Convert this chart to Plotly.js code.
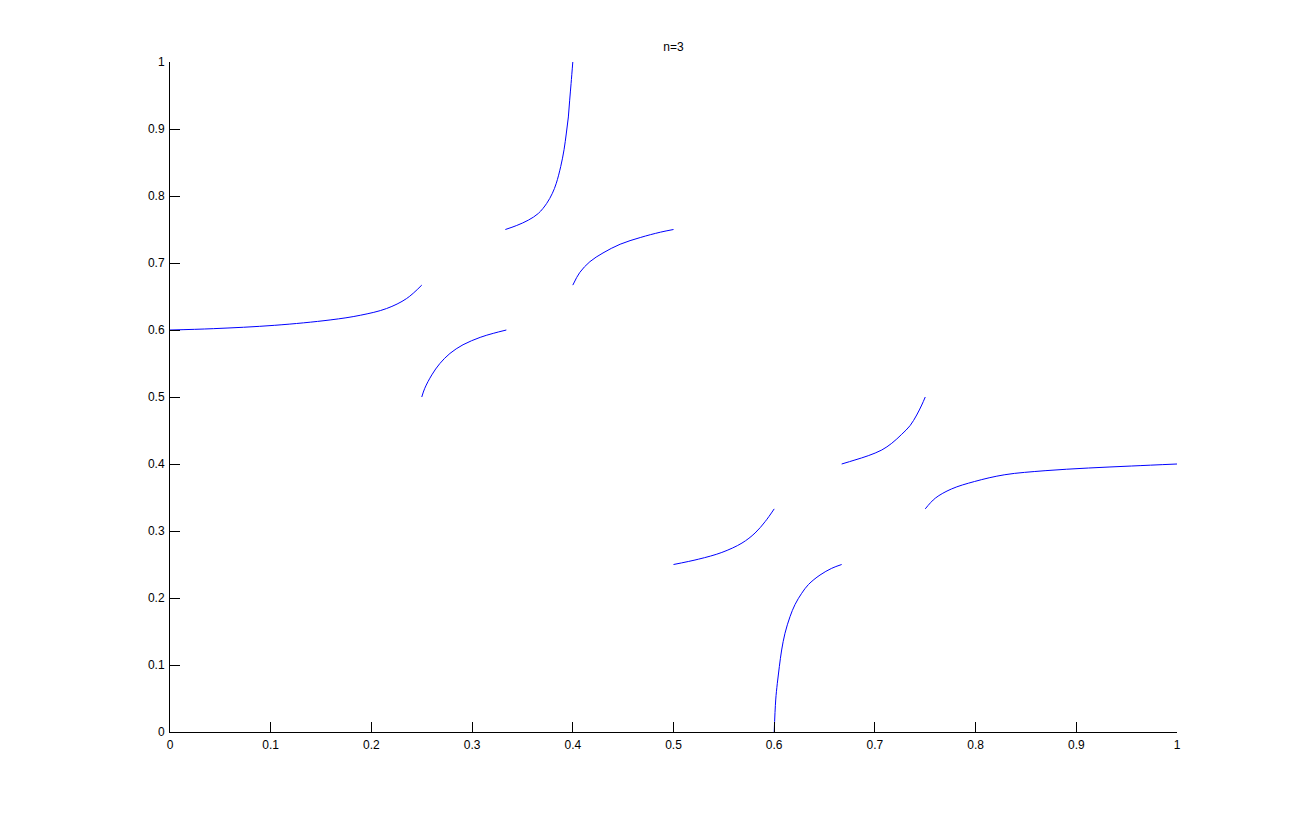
<!DOCTYPE html>
<html>
<head>
<meta charset="utf-8">
<script src="https://cdn.plot.ly/plotly-3.0.1.min.js"></script>
<style>html,body{margin:0;padding:0;background:#fff;}#chart{width:1301px;height:824px;}</style>
</head>
<body>
<div id="chart"></div>
<script>
// Curve segments (x, y)
const seg1x = [0, 0.043, 0.104, 0.159, 0.189, 0.215, 0.235, 0.25];
const seg1y = [0.6, 0.602, 0.607, 0.615, 0.622, 0.632, 0.647, 0.667];
const seg2x = [0.25, 0.253, 0.26, 0.268, 0.278, 0.291, 0.308, 0.321, 0.334];
const seg2y = [0.5, 0.513, 0.533, 0.55, 0.565, 0.578, 0.589, 0.595, 0.6];
const seg3x = [0.333, 0.3443, 0.3559, 0.3658, 0.3741, 0.3797, 0.3836, 0.388, 0.3913, 0.3936, 0.3956, 0.3969, 0.3983, 0.4];
const seg3y = [0.75, 0.756, 0.764, 0.774, 0.789, 0.804, 0.819, 0.844, 0.869, 0.894, 0.918, 0.943, 0.968, 1.0];
const seg4x = [0.4, 0.407, 0.417, 0.43, 0.447, 0.467, 0.487, 0.5];
const seg4y = [0.667, 0.686, 0.702, 0.715, 0.728, 0.738, 0.746, 0.75];
const seg5x = [0.5, 0.525, 0.548, 0.568, 0.581, 0.591, 0.6];
const seg5y = [0.25, 0.258, 0.268, 0.282, 0.297, 0.314, 0.333];
const seg6x = [0.6, 0.6015, 0.6031, 0.6051, 0.6074, 0.6107, 0.6157, 0.6207, 0.6273, 0.634, 0.6455, 0.6571, 0.667];
const seg6y = [0, 0.0478, 0.0727, 0.0975, 0.1224, 0.1473, 0.1721, 0.1903, 0.207, 0.2201, 0.2343, 0.2443, 0.25];
const seg7x = [0.667, 0.6802, 0.6934, 0.7068, 0.7167, 0.7266, 0.7349, 0.7415, 0.7465, 0.75];
const seg7y = [0.4, 0.406, 0.4124, 0.4209, 0.4309, 0.4443, 0.4572, 0.4731, 0.488, 0.5];
const seg8x = [0.75, 0.76, 0.776, 0.799, 0.829, 0.869, 0.912, 0.955, 1.0];
const seg8y = [0.333, 0.349, 0.3627, 0.3739, 0.384, 0.39, 0.394, 0.397, 0.4];
const tickVals = [0, 0.1, 0.2, 0.3, 0.4, 0.5, 0.6, 0.7, 0.8, 0.9, 1];
const tickText = ['0', '0.1', '0.2', '0.3', '0.4', '0.5', '0.6', '0.7', '0.8', '0.9', '1'];
const titleText = 'n=3';

const segs = [[seg1x, seg1y], [seg2x, seg2y], [seg3x, seg3y], [seg4x, seg4y],
              [seg5x, seg5y], [seg6x, seg6y], [seg7x, seg7y], [seg8x, seg8y]];
const traces = segs.map(s => ({
  x: s[0], y: s[1], type: 'scatter', mode: 'lines',
  line: {color: '#0000ff', width: 1, shape: 'spline', smoothing: 1},
  hoverinfo: 'x+y', showlegend: false
}));

const axisCommon = {
  range: [0, 1], autorange: false,
  showgrid: false, zeroline: false,
  showline: true, linecolor: '#000', linewidth: 1, mirror: false,
  ticks: 'inside', ticklen: 10, tickwidth: 1, tickcolor: '#000',
  tickvals: tickVals, ticktext: tickText,
  tickfont: {family: 'Liberation Sans, Arial, sans-serif', size: 12, color: '#000'}
};

const layout = {
  width: 1301, height: 824,
  margin: {l: 170, r: 124, t: 62, b: 92},
  paper_bgcolor: '#fff', plot_bgcolor: '#fff',
  title: {text: titleText, x: 0.5177, xanchor: 'center', y: 0.943, yanchor: 'middle',
          font: {family: 'Liberation Sans, Arial, sans-serif', size: 12, color: '#000'}},
  xaxis: Object.assign({}, axisCommon, {ticklabelstandoff: 2}),
  yaxis: Object.assign({}, axisCommon, {ticklabelstandoff: 2}),
  showlegend: false
};

Plotly.newPlot('chart', traces, layout, {displayModeBar: false, staticPlot: true});
</script>
</body>
</html>
